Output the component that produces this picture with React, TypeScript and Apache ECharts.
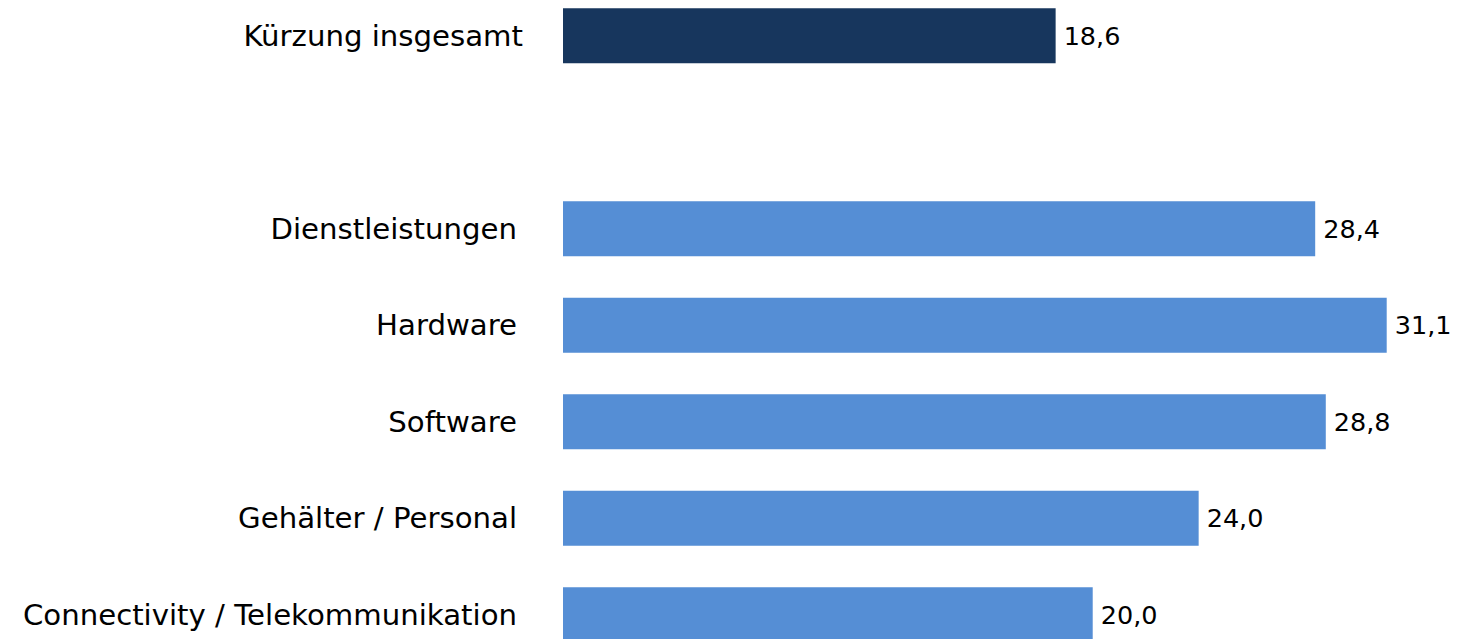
import React, { useEffect, useRef } from "react";
import * as echarts from "echarts";

const categories = [
  "Kürzung insgesamt",
  "",
  "Dienstleistungen",
  "Hardware",
  "Software",
  "Gehälter / Personal",
  "Connectivity / Telekommunikation",
];
const values: (number | null)[] = [18.6, null, 28.4, 31.1, 28.8, 24.0, 20.0];
const totalColor = "#17365D";
const partColor = "#558ED5";

export default function App() {
  const ref = useRef<HTMLDivElement>(null);
  useEffect(() => {
    if (!ref.current) return;
    const chart = echarts.init(ref.current, undefined, { renderer: "svg" });
    chart.setOption({
      animation: false,
      backgroundColor: "#ffffff",
      grid: { left: 563, top: 0.5, width: 927, height: 675.5, containLabel: false },
      xAxis: {
        type: "value",
        min: 0,
        max: 35,
        show: false,
        splitLine: { show: false },
      },
      yAxis: {
        type: "category",
        inverse: true,
        data: categories,
        axisLine: { show: false },
        axisTick: { show: false },
        axisLabel: {
          margin: 40,
          formatter: (v: string, i: number) => (i === 0 ? `{a|${v}}` : `{b|${v}}`),
          rich: {
            a: { fontFamily: "DejaVu Sans", fontSize: 29.2, color: "#000000" },
            b: { fontFamily: "DejaVu Sans", fontSize: 29.2, color: "#000000", padding: [0, 6, 0, 0] },
          },
        },
      },
      series: [
        {
          type: "bar",
          barWidth: 55,
          data: values.map((v, i) => ({
            value: v,
            itemStyle: { color: i === 0 ? totalColor : partColor },
          })),
          label: {
            show: true,
            position: "right",
            distance: 8,
            fontFamily: "DejaVu Sans",
            fontSize: 25.5,
            color: "#000000",
            formatter: (p: any) =>
              p.value == null ? "" : Number(p.value).toFixed(1).replace(".", ","),
          },
        },
      ],
    });
    return () => chart.dispose();
  }, []);
  return (
    <div
      style={{
        position: "absolute",
        left: 0,
        top: 0,
        width: 1460,
        height: 639,
        overflow: "hidden",
        background: "#fff",
      }}
    >
      <div
        ref={ref}
        style={{ position: "absolute", left: 0, top: -13, width: 1500, height: 690 }}
      />
    </div>
  );
}
